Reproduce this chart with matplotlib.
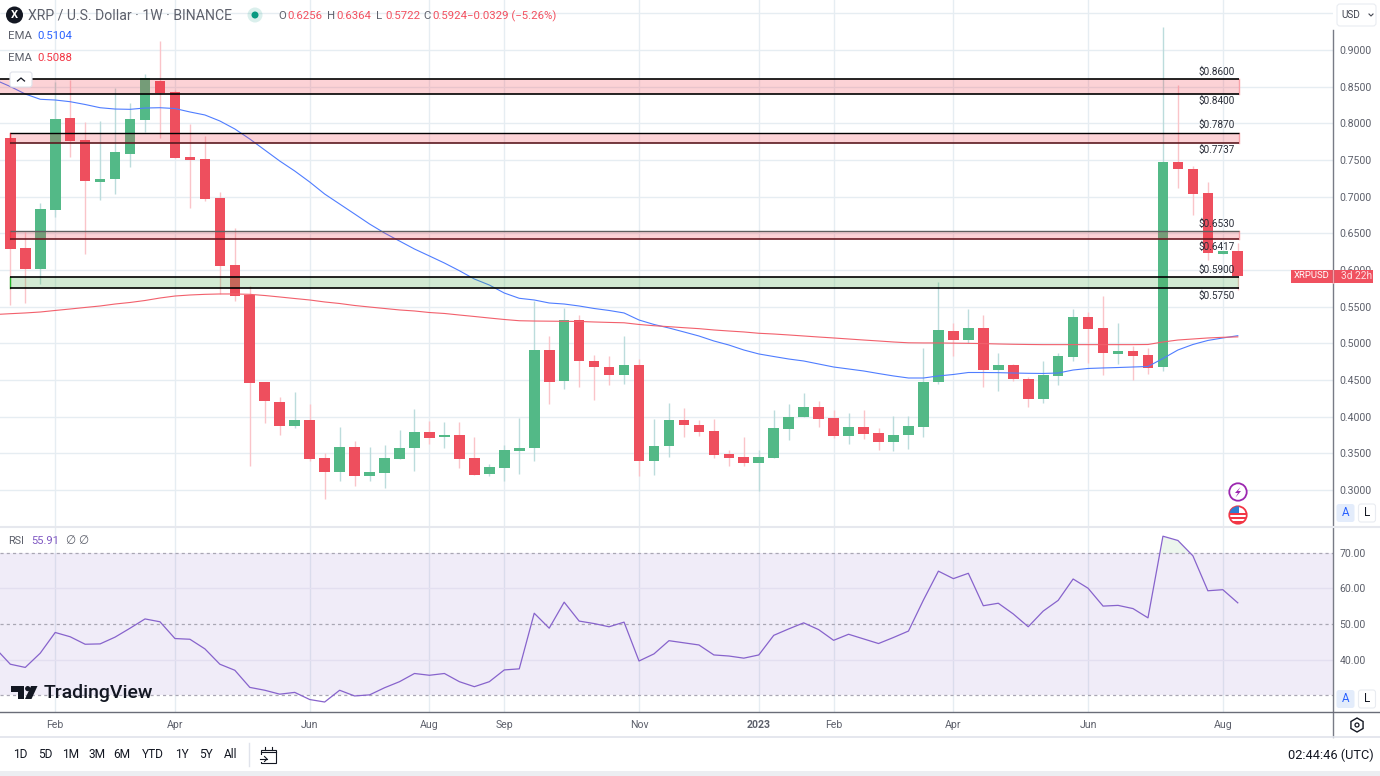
import numpy as np
import matplotlib
matplotlib.use('Agg')
import matplotlib.pyplot as plt
from matplotlib.patches import Circle, FancyBboxPatch, Polygon, Rectangle, RegularPolygon

plt.rcParams['font.family'] = ['Roboto', 'DejaVu Sans']

# weekly candles
opens = [.7796, .6296, .6010, .6818, .8069, .7773, .7200, .7241, .7586, .8045,
         .8577, .8423, .7545, .7514, .6978, .6068, .5663, .4468, .4204, .3877,
         .3950, .3436, .3250, .3582, .3195, .3236, .3422, .3568, .3786, .3718,
         .3754, .3440, .3218, .3305, .3536, .3568, .4909, .4482, .5318, .4759,
         .4682, .4568, .4700, .3395, .3600, .3959, .3891, .3805, .3495, .3446,
         .3373, .3440, .3832, .3991, .4127, .3977, .3741, .3859, .3773, .3659,
         .3754, .3864, .4477, .5173, .5045, .5214, .4640, .4705, .4514, .4245,
         .4559, .4818, .5355, .5214, .4855, .4900, .4841, .4682, .7468, .7377,
         .7045, .6214, .6256]
closes = [.6286, .6010, .6832, .8059, .7759, .7218, .7241, .7605, .8059, .8618,
          .8418, .7531, .7504, .6968, .6054, .5650, .4463, .4209, .3877, .3950,
          .3422, .3250, .3582, .3195, .3245, .3432, .3573, .3790, .3713, .3750,
          .3427, .3205, .3314, .3545, .3577, .4909, .4473, .5318, .4755, .4682,
          .4568, .4700, .3395, .3600, .3955, .3886, .3791, .3482, .3440, .3373,
          .3446, .3841, .3995, .4127, .3973, .3741, .3859, .3768, .3659, .3750,
          .3873, .4477, .5182, .5045, .5205, .4640, .4705, .4514, .4245, .4568,
          .4823, .5355, .5200, .4864, .4900, .4832, .4668, .7477, .7373, .7041,
          .6227, .6256, .5924]
highs = [.7870, .6522, .6910, .8564, .8591, .8022, .8036, .8486, .8273, .8673,
         .9123, .8450, .7991, .7827, .7064, .6569, .5782, .4468, .4272, .4332,
         .4169, .3500, .3863, .3664, .3586, .3614, .3818, .4100, .3941, .3923,
         .3923, .3718, .3355, .3614, .3982, .5581, .5100, .5477, .5386, .4841,
         .4827, .5100, .4790, .3968, .4182, .4114, .3955, .3968, .3545, .3723,
         .3545, .4091, .4168, .4318, .4214, .4091, .4045, .4091, .3850, .4009,
         .4009, .4936, .5841, .5273, .5464, .5386, .4864, .4723, .4536, .4759,
         .4864, .5468, .5432, .5645, .5273, .4964, .4932, .9318, .8523, .7423,
         .7205, .6256, .6364]
lows = [.5523, .5554, .5809, .6727, .7545, .6218, .6955, .7036, .7409, .7878,
        .7804, .7531, .6845, .6945, .5673, .5581, .3327, .3909, .3750, .3841,
        .3395, .2877, .3127, .3055, .3127, .3027, .3422, .3259, .3632, .3577,
        .3305, .3205, .3191, .3127, .3218, .3400, .4173, .4373, .4405, .4227,
        .4432, .4445, .3191, .3209, .3455, .3727, .3736, .3440, .3327, .3327,
        .2990, .3432, .3682, .3991, .3864, .3713, .3627, .3695, .3545, .3536,
        .3559, .3727, .4441, .4827, .5000, .4409, .4354, .4486, .4127, .4191,
        .4432, .4764, .4736, .4568, .4718, .4500, .4582, .4627, .7122, .6750,
        .6136, .6214, .5722]

# the indicator lines start one week before the first candle on screen
ema_blue = [.8591, .8502, .8400, .8328, .8318, .8295, .8257, .8213, .8195, .8191,
            .8209, .8213, .8202, .8155, .8114, .8032, .7923, .7786, .7636, .7486,
            .7350, .7200, .7036, .6900, .6764, .6627, .6504, .6395, .6286, .6191,
            .6095, .5990, .5877, .5795, .5686, .5614, .5591, .5550, .5536, .5509,
            .5475, .5448, .5414, .5318, .5257, .5209, .5155, .5100, .5032, .4977,
            .4909, .4855, .4820, .4786, .4759, .4718, .4677, .4650, .4623, .4588,
            .4555, .4527, .4527, .4555, .4575, .4602, .4602, .4600, .4595, .4591,
            .4589, .4595, .4636, .4657, .4664, .4670, .4677, .4684, .4793, .4909,
            .4984, .5039, .5073, .5104]
ema_red = [.5393, .5404, .5414, .5427, .5448, .5468, .5489, .5509, .5536, .5557,
           .5584, .5618, .5645, .5659, .5668, .5673, .5673, .5668, .5652, .5632,
           .5611, .5591, .5564, .5543, .5516, .5495, .5475, .5455, .5441, .5420,
           .5407, .5386, .5366, .5345, .5325, .5308, .5304, .5302, .5300, .5298,
           .5291, .5285, .5280, .5257, .5240, .5227, .5213, .5200, .5182, .5168,
           .5155, .5137, .5127, .5114, .5100, .5086, .5073, .5059, .5045, .5032,
           .5018, .5007, .5005, .5005, .5002, .5000, .4996, .4991, .4987, .4984,
           .4982, .4982, .4982, .4982, .4982, .4982, .4982, .4984, .5018, .5045,
           .5059, .5073, .5082, .5088]
rsi = [43.2, 38.7, 37.8, 41.8, 47.6, 46.4, 44.3, 44.4, 46.3, 48.8,
       51.4, 50.6, 45.9, 45.7, 43.0, 38.7, 37.0, 32.2, 31.4, 30.3,
       30.8, 28.8, 28.1, 31.4, 29.8, 30.1, 32.1, 33.8, 36.1, 35.6,
       36.1, 33.8, 32.4, 33.8, 37.1, 37.4, 53.0, 48.8, 56.1, 50.8,
       50.1, 49.2, 50.5, 39.6, 41.6, 45.3, 44.7, 44.1, 41.3, 41.0,
       40.4, 41.3, 46.8, 48.6, 50.3, 48.4, 45.4, 47.1, 45.8, 44.5,
       46.2, 48.0, 56.7, 64.8, 62.7, 64.2, 55.1, 55.8, 52.8, 49.2,
       53.6, 56.6, 62.6, 60.0, 55.0, 55.2, 54.3, 51.7, 74.6, 73.4,
       69.1, 59.3, 59.6, 55.91]

# support and resistance zones: top, bottom
red_zones = [(.8600, .8400), (.7870, .7737), (.6530, .6417)]
green_zone = (.5900, .5750)

price_ticks = [.30, .35, .40, .45, .50, .55, .60, .65, .70, .75, .80, .85, .90]
rsi_ticks = [40, 50, 60, 70]
month_pos = [3, 11, 20, 28, 33, 42, 50, 55, 63, 72, 81]
month_labels = ['Feb', 'Apr', 'Jun', 'Aug', 'Sep', 'Nov', '2023', 'Feb', 'Apr', 'Jun', 'Aug']
ranges = ['1D', '5D', '1M', '3M', '6M', 'YTD', '1Y', '5Y', 'All']

GREEN = '#53b987'
RED = '#ee4f5e'
GREY = '#5d606b'
GRID = '#e6edf2'
W, H = 1380, 776
XLIM = (-0.688, 88.36)

fig = plt.figure(figsize=(13.8, 7.76), dpi=100, facecolor='white')
ax = fig.add_axes([0, 1 - 527 / H, 1333 / W, 527 / H])
ax2 = fig.add_axes([0, 1 - 712 / H, 1333 / W, 184 / H])

idx = np.arange(len(opens))
line_x = np.arange(-1, len(opens))
o = np.array(opens)
c = np.array(closes)
up = c >= o
cols = np.where(up, GREEN, RED)
wick_cols = np.where(up, '#bcdcdc', '#fac4c9')

# candles
ax.vlines(idx, lows, highs, colors=wick_cols, linewidth=1, zorder=2)
ax.bar(idx, np.abs(c - o), bottom=np.minimum(o, c), width=0.71, color=cols, linewidth=0, zorder=3)

# EMA lines
ax.plot(line_x, ema_blue, color='#4f7dff', lw=0.8, zorder=4)
ax.plot(line_x, ema_red, color='#f2606c', lw=0.8, zorder=4)

# zones go over the candles
for n, (top, bot) in enumerate(red_zones):
    start = -0.688 if n == 0 else 0
    ax.fill_between([start, 82.1], bot, top, color='#f23645', alpha=0.22, lw=0, zorder=5)
    if n > 0:
        ax.plot([start, start], [bot, top], color='#f23645', lw=1, zorder=5)
    ax.plot([82.1, 82.1], [bot, top], color='#f9a0a8', lw=1, zorder=5)
ax.fill_between([0, 82.1], green_zone[1], green_zone[0], color='#4caf50', alpha=0.25, lw=0, zorder=5)
ax.plot([0, 0], green_zone, color='#22b52a', lw=1, zorder=5)

ax.hlines(list(red_zones[0]), -0.688, 82.1, colors='black', lw=1.2, zorder=6)
ax.hlines(red_zones[1][0], 0, 82.1, colors='black', lw=1, zorder=6)
ax.hlines(red_zones[1][1], 0, 82.1, colors='#5c1a20', lw=1.2, zorder=6)
ax.hlines(red_zones[2][0], 0, 82.1, colors='#5f5f5f', lw=1, zorder=6)
ax.hlines(red_zones[2][1], 0, 82.1, colors='#6b1a22', lw=1.2, zorder=6)
ax.hlines(list(green_zone), 0, 82.1, colors='black', lw=1.2, zorder=6)

ax.set_xlim(XLIM)
ax.set_ylim(.2495, .9682)
ax.set_yticks(price_ticks)
ax.set_yticklabels(['%.4f' % t for t in price_ticks])
ax.yaxis.tick_right()
ax.tick_params(axis='y', length=0, pad=4.5, labelsize=7.6, labelcolor=GREY)
ax.set_xticks(month_pos)
ax.tick_params(axis='x', length=0, labelbottom=False)
ax.grid(True, color=GRID, lw=1, zorder=0)
ax.set_axisbelow(True)
ax.hlines(.95, *XLIM, colors=GRID, lw=1, zorder=0)

# RSI pane
ax2.axhspan(30, 70, color='#7e57c2', alpha=0.11, lw=0, zorder=1)
for lev in [30, 50, 70]:
    ax2.axhline(lev, color='#a9a7b4', lw=0.9, ls=(0, (2.5, 2.5)), zorder=2)
for lev in [40, 60]:
    ax2.axhline(lev, color='#e3dff0', lw=1, zorder=2)
ax2.fill_between(line_x, rsi, 70, where=np.array(rsi) > 70, interpolate=True,
                 color='#4caf50', alpha=0.1, lw=0, zorder=2)
ax2.plot(line_x, rsi, color='#8763cc', lw=0.9, zorder=3)
ax2.set_xlim(XLIM)
ax2.set_ylim(25.3, 76.9)
ax2.set_yticks(rsi_ticks)
ax2.set_yticklabels(['%.2f' % t for t in rsi_ticks])
ax2.yaxis.tick_right()
ax2.tick_params(axis='y', length=0, pad=4.5, labelsize=7.6, labelcolor=GREY)
ax2.set_xticks(month_pos)
ax2.set_xticklabels(month_labels)
ax2.tick_params(axis='x', length=0, pad=6, labelsize=7.6, labelcolor=GREY)
ax2.get_xticklabels()[6].set_fontweight('bold')
ax2.grid(True, axis='x', color=GRID, lw=1, zorder=0)
ax2.set_axisbelow(True)

for a in [ax, ax2]:
    for s in ['top', 'left', 'bottom', 'right']:
        a.spines[s].set_visible(False)

# everything around the panes, in pixel coordinates
ov = fig.add_axes([0, 0, 1, 1], zorder=10)
ov.set_xlim(0, W)
ov.set_ylim(H, 0)
ov.axis('off')
ov.patch.set_alpha(0)


def label(x, y, s, color=GREY, size=7.6, ha='left', **kw):
    ov.text(x, y, s, color=color, fontsize=size, ha=ha, va='center', **kw)


ov.plot([1333, 1333], [30, 737], color='#787b86', lw=1)
ov.plot([0, W], [712, 712], color='#6a6d78', lw=1)
ov.plot([0, W], [527, 527], color='#e6e8ee', lw=1.5)
ov.plot([0, W], [737, 737], color='#e0e3eb', lw=1.2)
ov.add_patch(Rectangle((0, 771), W, 5, color='#eceef2', lw=0))

# header
ov.add_patch(Circle((14.5, 15), 8.5, color='#131722', lw=0))
label(14.5, 15, 'X', color='white', size=8, ha='center', fontweight='bold')
label(28, 15, 'XRP / U.S. Dollar · 1W · BINANCE', color='#5d606b', size=10.1)
ov.add_patch(Circle((255, 15), 7.5, color='#089981', alpha=0.15, lw=0))
ov.add_patch(Circle((255, 15), 3.5, color='#089981', lw=0))
for x, name, val in [(278, 'O', '0.6256'), (327, 'H', '0.6364'), (376, 'L', '0.5722'), (423, 'C', '0.5924')]:
    label(x, 16, name, size=8.2)
    label(x + 9, 16, val, color='#f2505f', size=8.2)
label(467, 16, '−0.0329 (−5.26%)', color='#f2505f', size=8.2)
label(8, 36, 'EMA', size=8.2)
label(37, 36, '0.5104', color='#2962ff', size=8.2)
label(8, 58, 'EMA', size=8.2)
label(37, 58, '0.5088', color='#f23645', size=8.2)
ov.add_patch(FancyBboxPatch((10, 72), 22, 15, boxstyle='round,pad=0,rounding_size=2.5',
                            fc='white', ec='#e0e3eb', lw=0.8))
ov.plot([17.5, 21, 24.5], [81, 78, 81], color='#131722', lw=0.9)

# zone labels
zone_labels = ['$0.8600', '$0.8400', '$0.7870', '$0.7737', '$0.6530', '$0.6417', '$0.5900', '$0.5750']
zone_label_y = [72, 101, 125, 150, 224, 247, 270, 296]
for s, y in zip(zone_labels, zone_label_y):
    label(1235, y, s, color='#2a2e39', size=7.2, ha='right')

# price tag
ov.add_patch(Rectangle((1291, 269.5), 82, 13.5, color='#f0505f', lw=0))
ov.plot([1333, 1333], [269.5, 283], color='#f7a1a9', lw=0.8)
label(1294, 276, 'XRPUSD', color='white', size=6.8)
label(1341, 276, '3d 22h', color='#fde0e3', size=7.3)

# USD button
ov.add_patch(FancyBboxPatch((1337, 4), 39, 22, boxstyle='round,pad=0,rounding_size=3',
                            fc='white', ec='#e9ecf1', lw=0.8))
label(1341, 15, 'USD', color='#434651', size=7.2)
ov.plot([1369, 1371, 1373], [14, 16, 14], color='#434651', lw=0.8)

# A / L buttons
for y in [513, 699]:
    ov.add_patch(FancyBboxPatch((1336.5, y - 9), 18, 18, boxstyle='round,pad=0,rounding_size=2.5',
                                fc='#e3ecfb', ec='none'))
    label(1345.5, y, 'A', color='#2962ff', size=8.4, ha='center')
    ov.add_patch(FancyBboxPatch((1358.5, y - 9), 17, 18, boxstyle='round,pad=0,rounding_size=2.5',
                                fc='white', ec='#e9ecf1', lw=0.8))
    label(1367, y, 'L', color='#131722', size=8.4, ha='center')

# event icons
ov.add_patch(Circle((1238, 492), 8.7, fc='white', ec='#9c27b0', lw=1.3))
ov.add_patch(Polygon([(1240.5, 487), (1235, 493), (1238, 493), (1235.5, 497.5), (1241, 491), (1238, 491)],
                     color='#9c27b0', lw=0))
flag = Circle((1238, 515), 8.7, fc='white', ec='#f23645', lw=1.3)
ov.add_patch(flag)
for y in [513, 517, 521]:
    r = Rectangle((1229, y), 18, 1.8, color='#f23645', lw=0)
    ov.add_patch(r)
    r.set_clip_path(flag)
blue = Rectangle((1229, 506), 10, 7, color='#2d7fd3', lw=0)
ov.add_patch(blue)
blue.set_clip_path(flag)

# RSI label
label(8, 541, 'RSI', size=7.8)
label(31, 541, '55.91', color='#7e57c2', size=8)
label(65, 541, '∅', size=8.4)
label(78, 541, '∅', size=8.4)

# TradingView logo
ov.add_patch(Polygon([(10.5, 686), (24, 686), (24, 699), (17.5, 699), (17.5, 691.5), (10.5, 691.5)],
                     color='#131722', lw=0))
ov.add_patch(Circle((27.7, 688.6), 2.6, color='#131722', lw=0))
ov.add_patch(Polygon([(31, 686), (37.5, 686), (31.5, 699), (25, 699)], color='#131722', lw=0))
label(44, 693, 'TradingView', color='#131722', size=14, fontweight='medium')

# bottom bar
range_x = [20, 45, 71, 97, 122, 153, 182, 206, 231]
for x, s in zip(range_x, ranges):
    label(x, 755, s, color='#131722', size=8.6, ha='center')
ov.plot([248.5, 248.5], [743, 766], color='#e0e3eb', lw=1)
ov.add_patch(Rectangle((261, 750), 15, 13, fc='none', ec='#131722', lw=0.8))
ov.add_patch(Rectangle((259, 755), 8, 7, fc='white', ec='none'))
ov.plot([261, 276], [752, 752], color='#131722', lw=0.8)
ov.plot([265, 265], [747, 750], color='#131722', lw=0.8)
ov.plot([272, 272], [747, 750], color='#131722', lw=0.8)
ov.plot([260, 267], [759, 759], color='#131722', lw=0.8)
ov.plot([264.5, 267, 264.5], [756.5, 759, 761.5], color='#131722', lw=0.8)
label(1374, 755, '02:44:46 (UTC)', color='#131722', size=9.2, ha='right')

# settings icon
ov.add_patch(RegularPolygon((1357, 725), 6, radius=7, fc='white', ec='#131722', lw=1))
ov.add_patch(Circle((1357, 725), 2, fc='white', ec='#131722', lw=0.9))

plt.savefig('out.png', dpi=100, facecolor='white')
